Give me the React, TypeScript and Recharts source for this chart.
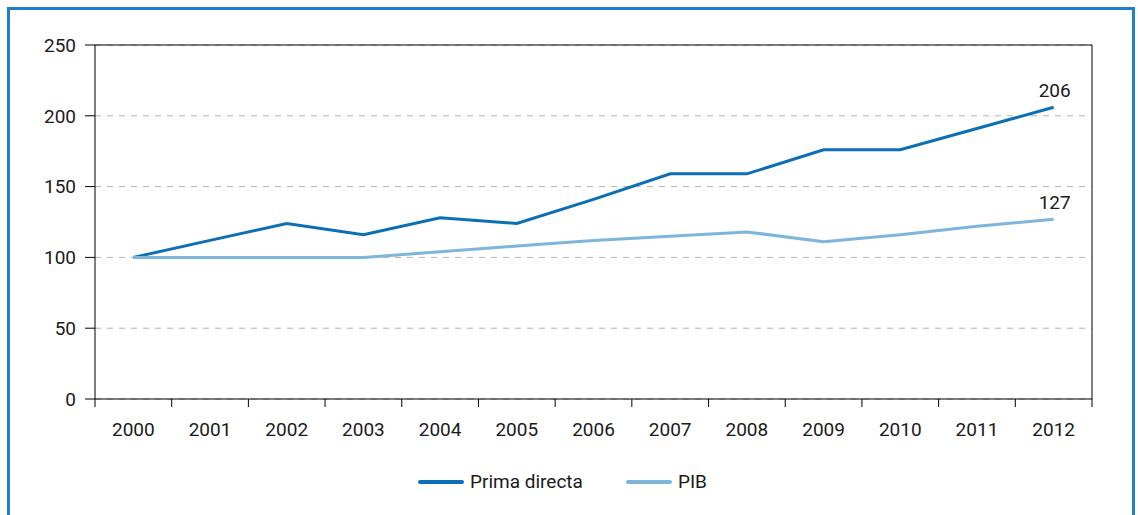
import React from "react";
import { LineChart, Line, XAxis, YAxis, CartesianGrid, Legend, LabelList, ReferenceLine } from "recharts";

const years = ["2000", "2001", "2002", "2003", "2004", "2005", "2006", "2007", "2008", "2009", "2010", "2011", "2012"];
const primaDirecta = [100, 112, 124, 116, 128, 124, 141, 159, 159, 176, 176, 191, 206];
const pib = [100, 100, 100, 100, 104, 108, 112, 115, 118, 111, 116, 122, 127];
const yTicks = [0, 50, 100, 150, 200, 250];

const data = years.map((year, i) => ({ year, prima: primaDirecta[i], pib: pib[i] }));

const CHART_W = 1120;
const CHART_H = 505;
const MARGIN = { top: 35, right: 37, left: 25, bottom: 76 };
const Y_W = 60;
const BAND = (CHART_W - MARGIN.left - MARGIN.right - Y_W - 1) / years.length;

const DARK = "#0b6fb6";
const LIGHT = "#7db5dd";
const FONT = "Roboto, 'Open Sans', sans-serif";

const XTick = (props: any) => {
  const { x, y, payload, index } = props;
  const left = x - BAND / 2;
  const right = x + BAND / 2;
  return (
    <g>
      <line x1={left} y1={y} x2={left} y2={y + 8} stroke="#000" />
      {index === years.length - 1 && <line x1={right} y1={y} x2={right} y2={y + 8} stroke="#000" />}
      <text x={x} y={y + 37} textAnchor="middle" fill="#1a1a1a" fontSize={19} fontFamily={FONT}>
        {payload.value}
      </text>
    </g>
  );
};

const EndLabel = (props: any) => {
  const { x, y, value, index } = props;
  if (index !== years.length - 1) return null;
  return (
    <text x={x + 1} y={y - 10} textAnchor="middle" fill="#1a1a1a" fontSize={19} fontFamily={FONT}>
      {value}
    </text>
  );
};

const LegendContent = () => (
  <div style={{ display: "flex", alignItems: "center", fontFamily: FONT, fontSize: 19, color: "#1a1a1a" }}>
    <span style={{ display: "inline-block", width: 46, height: 4, borderRadius: 2, background: DARK, marginRight: 6 }} />
    <span style={{ marginRight: 43 }}>Prima directa</span>
    <span style={{ display: "inline-block", width: 46, height: 4, borderRadius: 2, background: LIGHT, marginRight: 6 }} />
    <span>PIB</span>
  </div>
);

export default function App() {
  return (
    <div style={{ position: "fixed", top: 0, left: 0, width: 1138, height: 515, overflow: "hidden", background: "#fff" }}>
      <div
        style={{
          position: "absolute",
          left: 7,
          top: 7,
          width: 1128,
          height: 540,
          boxSizing: "border-box",
          border: "3px solid #1f7fc8",
        }}
      />
      <div style={{ position: "absolute", left: 10, top: 10 }}>
        <LineChart width={CHART_W} height={CHART_H} data={data} margin={MARGIN}>
          <CartesianGrid vertical={false} stroke="#b3b3b3" strokeDasharray="6 6" />
          <XAxis
            dataKey="year"
            scale="band"
            axisLine={{ stroke: "#000" }}
            tickLine={false}
            tickSize={0}
            tickMargin={0}
            height={40}
            interval={0}
            tick={<XTick />}
          />
          <YAxis
            domain={[0, 250]}
            ticks={yTicks}
            width={Y_W}
            axisLine={{ stroke: "#000" }}
            tickLine={{ stroke: "#000" }}
            tickSize={10}
            tickMargin={9}
            tick={{ fill: "#1a1a1a", fontSize: 19, fontFamily: FONT }}
          />
          <YAxis
            yAxisId="right"
            orientation="right"
            domain={[0, 250]}
            ticks={yTicks}
            width={1}
            tick={false}
            tickLine={false}
            axisLine={{ stroke: "#000" }}
          />
          <ReferenceLine y={250} stroke="#000" strokeWidth={1} ifOverflow="visible" />
          <Line type="linear" dataKey="prima" name="Prima directa" stroke={DARK} strokeWidth={3} dot={false} isAnimationActive={false}>
            <LabelList dataKey="prima" content={<EndLabel />} />
          </Line>
          <Line type="linear" dataKey="pib" name="PIB" stroke={LIGHT} strokeWidth={3} dot={false} isAnimationActive={false}>
            <LabelList dataKey="pib" content={<EndLabel />} />
          </Line>
          <Legend
            layout="horizontal"
            verticalAlign="middle"
            align="center"
            content={<LegendContent />}
            wrapperStyle={{ top: 460, left: 408, width: 320, height: 24 }}
          />
        </LineChart>
      </div>
    </div>
  );
}
